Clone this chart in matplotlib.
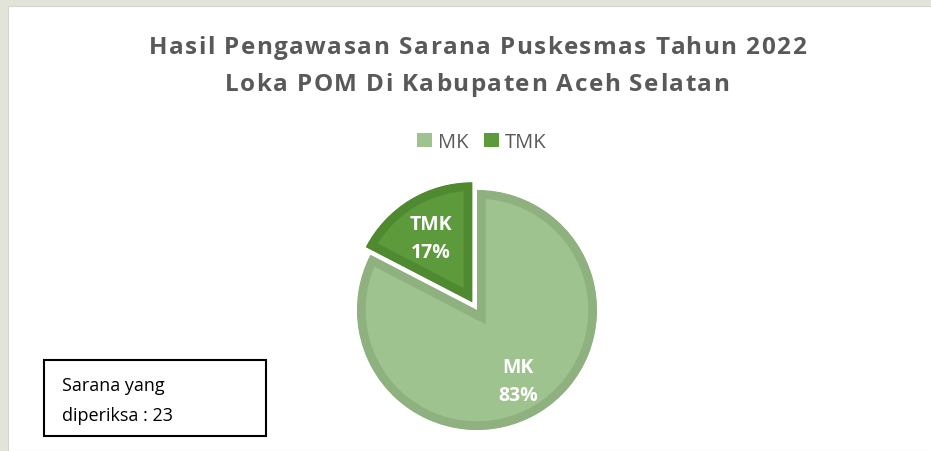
import matplotlib.pyplot as plt
from matplotlib.patches import Rectangle, Patch

labels = ['MK', 'TMK']
counts = [19, 4]
fill_colors = ['#9fc38e', '#5c9a3c']
edge_colors = ['#8fb17f', '#4f8a30']
explode = [0, 0.075]
title_lines = ['Hasil Pengawasan Sarana Puskesmas Tahun 2022',
               'Loka POM Di Kabupaten Aceh Selatan']
note_lines = ['Sarana yang', 'diperiksa : 23']

W, H = 931, 452
fig = plt.figure(figsize=(W / 100, H / 100), dpi=100, facecolor='#e3e4d9')
fig.patches.append(Rectangle((8 / W, 0), 1, 1 - 7 / H, transform=fig.transFigure,
                             facecolor='white', edgecolor='#d4d5cc', linewidth=0.8, zorder=-5))

font = 'Open Sans'
gray = '#595959'
renderer = fig.canvas.get_renderer()


def spaced_text(xc, yc, s, gap, **kw):
    # draw text char by char with extra letter spacing (pixels)
    def width(sub):
        if not sub:
            return 0.0
        t = fig.text(0, 0, sub, **kw)
        w = t.get_window_extent(renderer).width
        t.remove()
        return w
    total = width(s) + gap * (len(s) - 1)
    x0 = xc - total / 2
    for i, ch in enumerate(s):
        if ch == ' ':
            continue
        x = x0 + width(s[:i]) + gap * i
        fig.text(x / W, 1 - yc / H, ch, ha='left', va='center', **kw)


# title
tkw = dict(fontsize=17.5, fontweight='bold', color=gray, family=font)
spaced_text(477, 48, title_lines[0], 1.5, **tkw)
spaced_text(477, 85, title_lines[1], 1.5, **tkw)

# pie
cx, cy, r = 477, 311, 120
half = 130
ax = fig.add_axes([(cx - half) / W, (H - cy - half) / H, 2 * half / W, 2 * half / H])
wedges, texts, autotexts = ax.pie(counts, startangle=90, counterclock=False, explode=explode,
                                  colors=fill_colors, autopct='%1.0f%%', pctdistance=0.66,
                                  wedgeprops=dict(linewidth=0))
for w, ec in zip(wedges, edge_colors):
    # border drawn only inside the wedge
    w.set_edgecolor(ec)
    w.set_linewidth(12.5)
    w.set_joinstyle('miter')
    w.set_clip_on(True)
    w.set_clip_path(w)
for t, lab in zip(autotexts, labels):
    t.set_text(lab + '\n' + t.get_text())
    t.set_color('white')
    t.set_fontsize(14)
    t.set_fontweight('bold')
    t.set_family(font)
    t.set_linespacing(1.55)
    x, y = t.get_position()
    t.set_position((x, y - 0.025))
lim = half / r
ax.set_xlim(-lim, lim)
ax.set_ylim(-lim, lim)
ax.set_aspect('equal')
ax.axis('off')

# legend
handles = [Patch(facecolor=c, edgecolor='none') for c in fill_colors]
fig.legend(handles, labels, loc='center', bbox_to_anchor=(482 / W, 1 - 143 / H), ncol=2,
           frameon=False, prop={'family': font, 'size': 14.5}, labelcolor=gray,
           handlelength=0.72, handleheight=0.72, handletextpad=0.3, columnspacing=0.8)

# note box
fig.patches.append(Rectangle((44 / W, 1 - 437 / H), 222 / W, 76 / H, transform=fig.transFigure,
                             facecolor='white', edgecolor='black', linewidth=1.5, zorder=3))
fig.text(62 / W, 1 - 386 / H, note_lines[0], ha='left', va='center', fontsize=13,
         family=font, color='black', zorder=4)
fig.text(62 / W, 1 - 416 / H, note_lines[1], ha='left', va='center', fontsize=13,
         family=font, color='black', zorder=4)

fig.savefig('out.png', dpi=100, facecolor=fig.get_facecolor())
